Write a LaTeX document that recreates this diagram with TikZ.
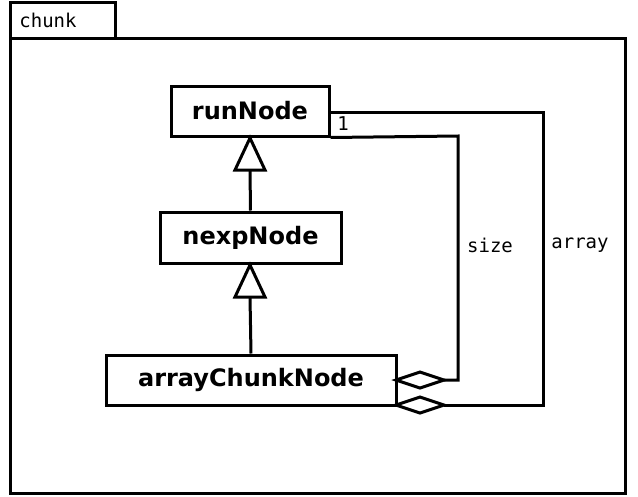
\documentclass[tikz,border=0pt]{standalone}
\usepackage{fontspec}
\setmainfont{DejaVu Sans}
\newfontfamily\mono{DejaVu Sans Mono}
\begin{document}
\begin{tikzpicture}[x=1pt,y=-1pt,line width=3pt,
  cls/.style={draw,fill=white,inner sep=0pt,font=\fontsize{24}{28}\selectfont\bfseries},
  lbl/.style={font=\mono\fontsize{19}{22}\selectfont}]
\useasboundingbox (0,0) rectangle (638,496);
\draw (10,38) rectangle (625,493);
\draw (10,2) rectangle (115,38);
\node[lbl] (pk) at (48,20) {chunk};
\node[cls,minimum width=158pt,minimum height=50pt] (run) at (250,111) {runNode};
\node[cls,minimum width=181pt,minimum height=51pt] (nexp) at (250.5,237.5) {nexpNode};
\node[cls,minimum width=290pt,minimum height=50pt] (arr) at (251,380) {arrayChunkNode};
% inheritance
\coordinate (t1) at (250,138);
\draw (nexp.north) -- (250,170);
\draw[fill=white,line join=miter] (t1) -- (265,170) -- (235,170) -- cycle;
\coordinate (t2) at (250,265);
\draw (arr.north) -- (250,297);
\draw[fill=white,line join=miter] (t2) -- (265,297) -- (235,297) -- cycle;
% associations
\coordinate (d1) at (396,380);
\coordinate (d2) at (396,405);
\draw (run.south east) -- (458,136) -- (458,380) -- (444,380);
\draw[fill=white,line join=miter] (d1) -- (420,372) -- (444,380) -- (420,388) -- cycle;
\draw (329,112) -- (543,112) -- (543,405) -- (444,405);
\draw[fill=white,line join=miter] (d2) -- (420,397) -- (444,405) -- (420,413) -- cycle;
\node[lbl] (one) at (343,124) {1};
\node[lbl] (sz) at (490,245) {size};
\node[lbl] (ar) at (580,245) {array};
\end{tikzpicture}
\end{document}
